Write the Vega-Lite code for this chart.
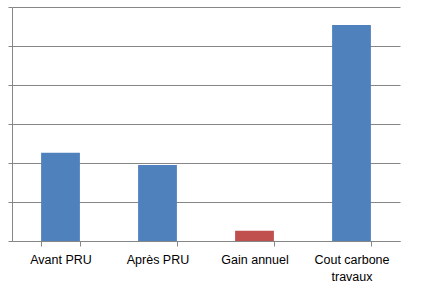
{
  "$schema": "https://vega.github.io/schema/vega-lite/v6.json",
  "width": 388,
  "height": 234,
  "autosize": "none",
  "padding": {"left": 12, "top": 7, "right": 26, "bottom": 50},
  "background": "white",
  "config": {"view": {"stroke": null}},
  "data": {"values": [
    {"cat": "Avant PRU", "value": 2.26, "grp": "a"},
    {"cat": "Après PRU", "value": 1.95, "grp": "a"},
    {"cat": "Gain annuel", "value": 0.26, "grp": "b"},
    {"cat": "Cout carbone travaux", "value": 5.54, "grp": "a"}
  ]},
  "mark": {"type": "bar"},
  "encoding": {
    "x": {
      "field": "cat", "type": "nominal", "sort": null,
      "scale": {"paddingInner": 0.6, "paddingOuter": 0.3},
      "axis": {
        "title": null, "labelAngle": 0, "tickBand": "extent",
        "domainColor": "#868686", "tickColor": "#868686", "tickSize": 5,
        "labelFont": "Liberation Sans", "labelFontSize": 12.5, "labelColor": "#000000",
        "labelPadding": 7, "labelLineHeight": 17, "labelBaseline": "top",
        "labelExpr": "datum.value == 'Cout carbone travaux' ? ['Cout carbone', 'travaux'] : datum.value"
      }
    },
    "y": {
      "field": "value", "type": "quantitative",
      "scale": {"domain": [0, 6], "nice": false},
      "axis": {
        "title": null, "labels": false, "values": [0, 1, 2, 3, 4, 5, 6],
        "grid": true, "gridColor": "#868686", "gridOpacity": 1,
        "domainColor": "#868686", "tickColor": "#868686", "tickSize": 4
      }
    },
    "color": {
      "field": "grp", "type": "nominal", "legend": null,
      "scale": {"domain": ["a", "b"], "range": ["#4F81BD", "#C0504D"]}
    }
  }
}
